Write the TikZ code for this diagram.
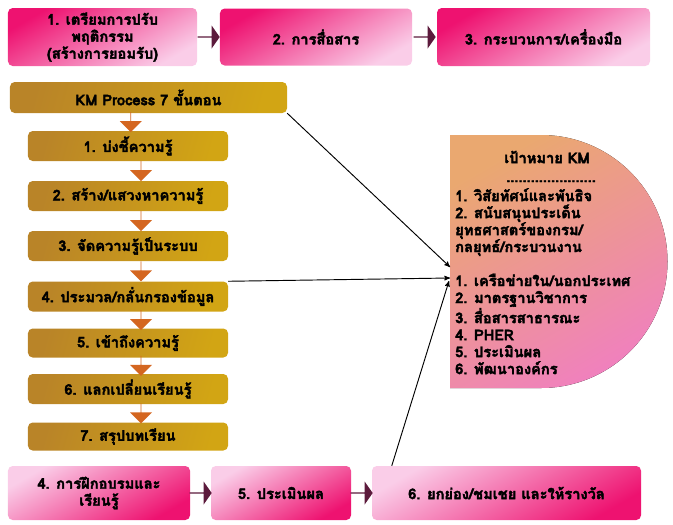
\documentclass[tikz,border=0pt]{standalone}
\usepackage{fontspec}
\setmainfont{Loma}[Script=Thai,BoldFont={Loma Bold},BoldFeatures={FakeBold=2.5}]
\usepackage{tikz}
\usetikzlibrary{arrows}
\usetikzlibrary{calc}
\usetikzlibrary{shapes.arrows}
\definecolor{hotpink}{RGB}{238,18,112}
\definecolor{palepink}{RGB}{250,205,232}
\definecolor{darkplum}{RGB}{92,26,60}
\definecolor{golddark}{RGB}{185,132,40}
\definecolor{goldlight}{RGB}{248,190,142}
\definecolor{goldright}{RGB}{210,165,20}
\definecolor{kmorange}{RGB}{212,102,32}
\definecolor{goalorange}{RGB}{234,168,112}
\definecolor{goalpink}{RGB}{240,128,190}
\newcommand{\px}{0.3mm}
\tikzset{txt/.style={font=\fontsize{12.5}{14.5}\selectfont\bfseries,align=center,inner sep=0pt}}
\tikzset{pinktop/.style 2 args={txt,rounded corners=4pt,top color=hotpink,bottom color=palepink,shading angle=30,minimum width=#1*\px,minimum height=#2*\px}}
\tikzset{pinkbot/.style 2 args={txt,rounded corners=4pt,top color=palepink,bottom color=hotpink,shading angle=30,minimum width=#1*\px,minimum height=#2*\px}}
\tikzset{goldbox/.style 2 args={txt,rounded corners=4pt,left color=golddark,middle color=goldlight,right color=goldright,shading angle=75,minimum width=#1*\px,minimum height=#2*\px}}
\tikzset{blockarrow/.style={single arrow,fill=darkplum,inner sep=0pt,minimum width=23*\px,minimum height=22*\px,single arrow head extend=4.5*\px,single arrow tip angle=110}}
\tikzset{downarrow/.style={single arrow,fill=kmorange,inner sep=0pt,minimum width=22*\px,minimum height=20*\px,single arrow head extend=6*\px,shape border rotate=270}}
\tikzset{line/.style={black,>=stealth',thick}}

\begin{document}
\begin{tikzpicture}[x=0.03cm,y=-0.03cm]
        \useasboundingbox (0,0) rectangle (673,524);
        % top row
        \node[pinktop={189}{58}] (prep) at (102.5,37) {1. เตรียมการปรับ\\พฤติกรรม\\(สร้างการยอมรับ)};
        \node[pinktop={192}{57}] (comm) at (316,37) {2. การสื่อสาร};
        \node[pinktop={213}{58}] (tools) at (543.5,37) {3. กระบวนการ/เครื่องมือ};
        \node[blockarrow] at ($(prep.east)!0.5!(comm.west)$) {};
        \node[blockarrow] at ($(comm.east)!0.5!(tools.west)$) {};
        % KM process
        \node[goldbox={277}{31}] (kmproc) at (148.5,97.5) {KM Process 7 ขั้นตอน};
        \node[goldbox={200}{30}] (s1) at (128,146) {1. บ่งชี้ความรู้};
        \node[goldbox={200}{30}] (s2) at (128,196) {2. สร้าง/แสวงหาความรู้};
        \node[goldbox={200}{30}] (s3) at (128,246) {3. จัดความรู้เป็นระบบ};
        \node[goldbox={200}{30}] (s4) at (128,296.5) {4. ประมวล/กลั่นกรองข้อมูล};
        \node[goldbox={200}{29}] (s5) at (128,343) {5. เข้าถึงความรู้};
        \node[goldbox={200}{30}] (s6) at (128,389) {6. แลกเปลี่ยนเรียนรู้};
        \node[goldbox={200}{28}] (s7) at (128,436.5) {7. สรุปบทเรียน};
        \node[downarrow] at ($(kmproc.south)!0.5!(s1.north)+(-7.5,0)$) {};
        \foreach \a/\b in {s1/s2,s2/s3,s3/s4,s4/s5,s5/s6,s6/s7}
          \node[downarrow] at ($(\a.south)!0.5!(\b.north)+(13,0)$) {};
        % goal
        \fill[top color=goalorange,bottom color=goalpink,shading angle=30] (450,135) -- (541,135) arc[start angle=-90,end angle=90,radius=126.5] -- (450,388) -- cycle;
        \node[txt] (goalhead) at (547,157) {เป้าหมาย KM};
        \node[txt,anchor=base] (goaldots) at (551,182) {......................};
        \node[txt,align=left,anchor=north west] (goallist) at (455,188) {1. วิสัยทัศน์และพันธิจ\\2. สนับสนุนประเด็น\\ยุทธศาสตร์ของกรม/\\กลยุทธ์/กระบวนงาน\\[14.5pt]1. เครือข่ายใน/นอกประเทศ\\2. มาตรฐานวิชาการ\\3. สื่อสารสาธารณะ\\4. PHER\\5. ประเมินผล\\6. พัฒนาองค์กร};
        \coordinate (goalin1) at (450,267);
        \coordinate (goalin2) at (450,278);
        \coordinate (goalin3) at (449,281);
        % bottom row
        \node[pinkbot={182}{54}] (train) at (99,493) {4. การฝึกอบรมและ\\เรียนรู้};
        \node[pinkbot={140}{54}] (evalb) at (281,493) {5. ประเมินผล};
        \node[pinkbot={269}{54}] (award) at (506.5,493) {6. ยกย่อง/ชมเชย และให้รางวัล};
        \node[blockarrow] at ($(train.east)!0.5!(evalb.west)$) {};
        \node[blockarrow] at ($(evalb.east)!0.5!(award.west)$) {};
        % links to goal
        \draw[line,->] (kmproc.south east) -- (goalin1);
        \draw[line,->] (s4.north east) -- (goalin2);
        \draw[line,->] (award.north west) ++(20,0) coordinate (awardtop) -- (goalin3);
      \end{tikzpicture}
\end{document}
